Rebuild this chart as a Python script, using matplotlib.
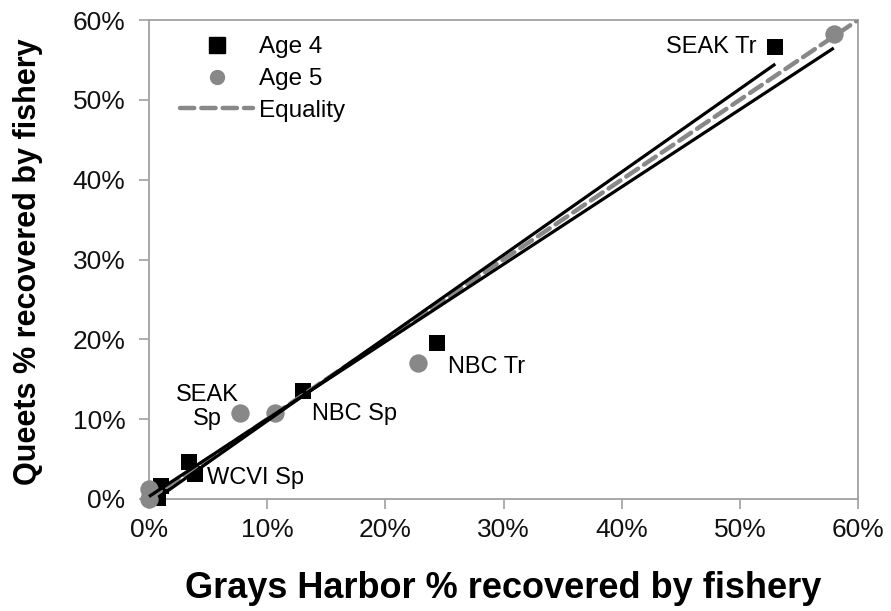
import numpy as np
import matplotlib
matplotlib.use("Agg")
import matplotlib.pyplot as plt
from matplotlib.lines import Line2D
from matplotlib.ticker import FuncFormatter

plt.rcParams['font.family'] = ['Liberation Sans', 'DejaVu Sans']

# ---- data (percent recovered by fishery) ----
age4_x = [53.0, 24.4, 13.0, 3.4, 3.9, 1.0, 0.8]
age4_y = [56.6, 19.6, 13.5, 4.6, 3.1, 1.6, 0.1]
age5_x = [57.95, 22.8, 7.7, 10.7, 0.0, 0.0]
age5_y = [58.2, 17.0, 10.8, 10.8, 1.2, 0.0]
equality = [0, 60]
ticks = [0, 10, 20, 30, 40, 50, 60]

# labelled points: (label, x, y, offset_pt, ha, va)
point_labels = [
    ("SEAK Tr", 53.0, 56.6, (-13.5, 0), 'right', 'center'),
    ("NBC Tr", 24.4, 19.6, (7.5, -17.5), 'left', 'center'),
    ("NBC Sp", 13.0, 13.5, (6.8, -16.5), 'left', 'center'),
    ("SEAK\nSp", 7.7, 10.8, (-23.5, 4.5), 'center', 'center'),
    ("WCVI Sp", 3.9, 3.1, (8.5, -3.0), 'left', 'center'),
]

GRAY = '#888888'
SPINE = '#a0a0a0'

fig = plt.figure(figsize=(8.91, 6.11), dpi=100)
ax = fig.add_axes([149/891, 1-499/611, (858-149)/891, (499-20)/611])

ax.scatter(age4_x, age4_y, marker='s', s=135, color='black', linewidths=0,
           zorder=3, clip_on=False)
ax.scatter(age5_x, age5_y, marker='o', s=175, color=GRAY, linewidths=0,
           zorder=4, clip_on=False)

ax.plot(equality, equality, color=GRAY, lw=3.2, dashes=(3.2, 1.6),
        dash_capstyle='round', zorder=5)

for xs, ys in ((age4_x, age4_y), (age5_x, age5_y)):
    m, b = np.polyfit(xs, ys, 1)
    xr = np.array([min(xs), max(xs)])
    ax.plot(xr, m*xr + b, color='black', lw=2.3, zorder=6,
            solid_capstyle='butt', clip_on=False)

for lab, x, y, off, ha, va in point_labels:
    ax.annotate(lab, (x, y), xytext=off, textcoords='offset points',
                ha=ha, va=va, fontsize=17, color='black',
                multialignment='center', linespacing=1.12, zorder=7)

ax.set_xlim(0, 60)
ax.set_ylim(0, 60)
ax.set_xticks(ticks)
ax.set_yticks(ticks)
fmt = FuncFormatter(lambda v, p: f"{v:.0f}%")
ax.xaxis.set_major_formatter(fmt)
ax.yaxis.set_major_formatter(fmt)
ax.tick_params(axis='both', direction='out', length=7, width=1.2, color=SPINE,
               labelsize=19, labelcolor='#111111')
ax.tick_params(axis='x', pad=7)
ax.tick_params(axis='y', pad=10)
for s in ax.spines.values():
    s.set_color(SPINE)
    s.set_linewidth(1.3)

fig.text(503/891, 1-588/611, "Grays Harbor % recovered by fishery",
         ha='center', va='center', fontsize=26, fontweight='bold')
fig.text(28/891, 1-262/611, "Queets % recovered by fishery",
         ha='center', va='center', rotation=90, fontsize=22, fontweight='bold')

handles = [
    Line2D([], [], marker='s', color='black', ls='none', markersize=11.5),
    Line2D([], [], marker='o', color=GRAY, ls='none', markersize=10),
    Line2D([], [], color=GRAY, lw=3.2, dashes=(3.2, 1.6), dash_capstyle='round'),
]
ax.legend(handles, ["Age 4", "Age 5", "Equality"], loc='upper left',
          bbox_to_anchor=(0.044, 0.966), frameon=False, fontsize=17.5,
          handlelength=3.0, handletextpad=0.25, labelspacing=0.40, borderpad=0,
          borderaxespad=0)

fig.savefig("out.png", dpi=100)
